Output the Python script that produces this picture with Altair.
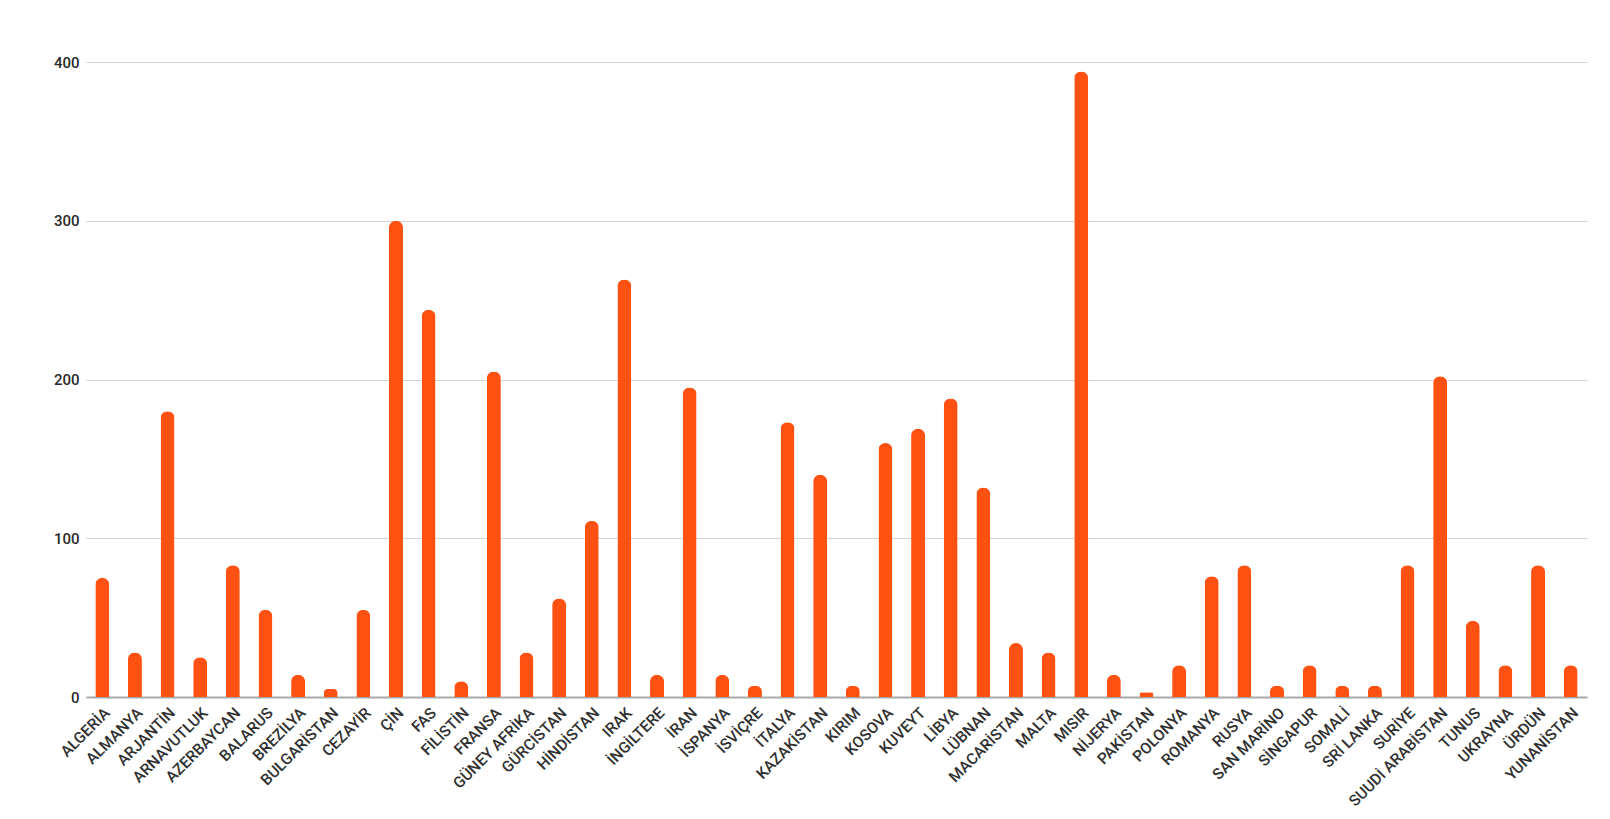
import altair as alt
import pandas as pd

countries = ["ALGERİA", "ALMANYA", "ARJANTİN", "ARNAVUTLUK", "AZERBAYCAN", "BALARUS",
             "BREZİLYA", "BULGARİSTAN", "CEZAYİR", "ÇİN", "FAS", "FİLİSTİN", "FRANSA",
             "GÜNEY AFRİKA", "GÜRCİSTAN", "HİNDİSTAN", "IRAK", "İNGİLTERE", "İRAN",
             "İSPANYA", "İSVİÇRE", "İTALYA", "KAZAKİSTAN", "KIRIM", "KOSOVA", "KUVEYT",
             "LİBYA", "LÜBNAN", "MACARİSTAN", "MALTA", "MISIR", "NİJERYA", "PAKİSTAN",
             "POLONYA", "ROMANYA", "RUSYA", "SAN MARİNO", "SİNGAPUR", "SOMALİ",
             "SRİ LANKA", "SURİYE", "SUUDİ ARABİSTAN", "TUNUS", "UKRAYNA", "ÜRDÜN",
             "YUNANİSTAN"]
values = [75, 28, 180, 25, 83, 55,
          14, 5, 55, 300, 244, 10, 205,
          28, 62, 111, 263, 14, 195,
          14, 7, 173, 140, 7, 160, 169,
          188, 132, 34, 28, 394, 14, 3,
          20, 76, 83, 7, 20, 7,
          7, 83, 202, 48, 20, 83,
          20]
y_ticks = [0, 100, 200, 300, 400]

df = pd.DataFrame({"country": countries, "value": values})

chart = alt.Chart(df).mark_bar(
    color="#FF5212", size=14, cornerRadiusEnd=7
).encode(
    x=alt.X("country:N", sort=countries, title=None,
            scale=alt.Scale(paddingInner=0.56, paddingOuter=0.28),
            axis=alt.Axis(labelAngle=-45, labelFont="Roboto", labelFontSize=15.5,
                          labelFontWeight=500,
                          labelColor="#303030", ticks=False, domain=True,
                          domainColor="#a8a8a8", domainWidth=2, labelPadding=8,
                          labelOverlap=False)),
    y=alt.Y("value:Q", title=None,
            scale=alt.Scale(domain=[0, 400], nice=False),
            axis=alt.Axis(values=y_ticks, labelFont="Roboto", labelFontSize=15,
                          labelFontWeight=500,
                          labelColor="#2a2a2a", ticks=False, domain=False,
                          gridColor="#d4d4d4", gridWidth=1.2, labelPadding=7))
).properties(
    width=1501, height=635,
    padding={"left": 78, "top": 54, "right": 10, "bottom": 122},
    autosize=alt.AutoSizeParams(type="none"),
    background="white"
).configure_view(stroke=None)

chart.save("out.html", embed_options={"renderer": "svg", "actions": False})
